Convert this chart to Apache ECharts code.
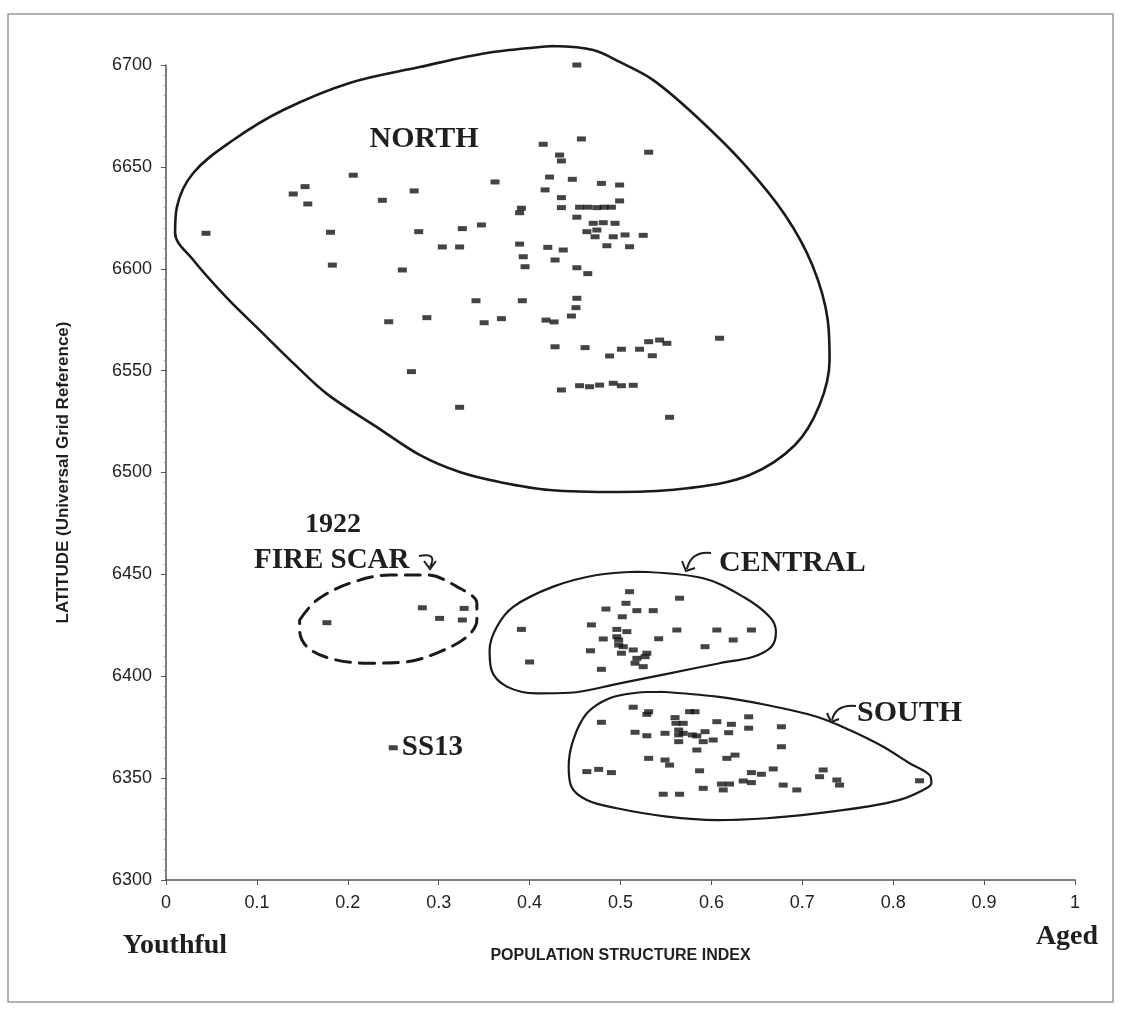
<!DOCTYPE html>
<html>
<head>
<meta charset="utf-8">
<script src="https://cdn.jsdelivr.net/npm/echarts@6/dist/echarts.min.js"></script>
<style>
  html, body { margin: 0; padding: 0; background: #ffffff; }
  #chart { width: 1122px; height: 1011px; }
</style>
</head>
<body>
<div id="chart"></div>
<script>
// Sample sites: [population structure index, latitude (UTM northing, km)]
const north = [
  [0.044, 6617.4], [0.140, 6636.7], [0.153, 6640.3], [0.156, 6631.8], [0.206, 6645.9],
  [0.238, 6633.6], [0.273, 6638.2], [0.181, 6617.9], [0.183, 6601.8], [0.260, 6599.4],
  [0.278, 6618.2], [0.304, 6610.7], [0.323, 6610.7], [0.326, 6619.7], [0.347, 6621.5],
  [0.341, 6584.3], [0.392, 6584.3], [0.245, 6574.0], [0.287, 6576.0], [0.350, 6573.5],
  [0.369, 6575.5], [0.362, 6642.6], [0.391, 6629.7], [0.389, 6627.5], [0.389, 6612.1],
  [0.393, 6605.9], [0.395, 6601.0], [0.415, 6661.1], [0.457, 6663.7], [0.531, 6657.2],
  [0.433, 6655.8], [0.435, 6652.9], [0.422, 6645.0], [0.447, 6643.9], [0.479, 6641.9],
  [0.499, 6641.1], [0.417, 6638.7], [0.435, 6634.9], [0.499, 6633.3], [0.435, 6630.0],
  [0.455, 6630.2], [0.464, 6630.2], [0.474, 6630.0], [0.482, 6630.2], [0.490, 6630.2],
  [0.452, 6625.3], [0.470, 6622.3], [0.481, 6622.6], [0.494, 6622.3], [0.463, 6618.2],
  [0.474, 6619.0], [0.472, 6615.7], [0.492, 6615.7], [0.505, 6616.6], [0.525, 6616.4],
  [0.485, 6611.3], [0.510, 6610.8], [0.420, 6610.5], [0.437, 6609.2], [0.428, 6604.3],
  [0.452, 6600.5], [0.464, 6597.6], [0.452, 6585.5], [0.451, 6580.9], [0.446, 6576.8],
  [0.418, 6574.8], [0.427, 6573.9], [0.428, 6561.7], [0.461, 6561.3], [0.488, 6557.2],
  [0.501, 6560.5], [0.521, 6560.5], [0.531, 6564.2], [0.543, 6565.0], [0.551, 6563.4],
  [0.535, 6557.3], [0.609, 6565.9], [0.270, 6549.5], [0.435, 6540.5], [0.455, 6542.6],
  [0.466, 6542.1], [0.477, 6542.9], [0.492, 6543.8], [0.501, 6542.6], [0.514, 6542.8],
  [0.323, 6532.0], [0.554, 6527.1], [0.452, 6700.0]
];

const central = [
  [0.510, 6441.5], [0.506, 6435.8], [0.484, 6433.0], [0.518, 6432.2], [0.536, 6432.2],
  [0.565, 6438.3], [0.502, 6429.2], [0.468, 6425.2], [0.391, 6423.0], [0.496, 6423.0],
  [0.507, 6421.9], [0.481, 6418.3], [0.496, 6419.4], [0.498, 6417.8], [0.542, 6418.4],
  [0.562, 6422.7], [0.606, 6422.7], [0.644, 6422.7], [0.624, 6417.8], [0.593, 6414.5],
  [0.498, 6415.3], [0.503, 6414.5], [0.467, 6412.5], [0.501, 6411.3], [0.514, 6412.9],
  [0.529, 6411.3], [0.518, 6408.8], [0.527, 6409.6], [0.516, 6406.4], [0.525, 6404.7],
  [0.400, 6407.0], [0.479, 6403.4]
];

const south = [
  [0.514, 6384.8], [0.531, 6382.6], [0.529, 6381.3], [0.576, 6382.6], [0.582, 6382.6],
  [0.479, 6377.4], [0.560, 6379.7], [0.561, 6376.9], [0.569, 6376.9], [0.606, 6377.7],
  [0.622, 6376.4], [0.641, 6380.1], [0.641, 6374.5], [0.677, 6375.2], [0.516, 6372.5],
  [0.529, 6370.8], [0.549, 6372.0], [0.564, 6373.6], [0.564, 6371.2], [0.564, 6367.9],
  [0.569, 6372.0], [0.579, 6371.2], [0.584, 6370.7], [0.593, 6372.8], [0.619, 6372.3],
  [0.591, 6367.9], [0.602, 6368.7], [0.584, 6363.8], [0.677, 6365.4], [0.531, 6359.7],
  [0.549, 6358.9], [0.554, 6356.4], [0.617, 6359.7], [0.626, 6361.3], [0.463, 6353.2],
  [0.476, 6354.3], [0.490, 6352.7], [0.587, 6353.6], [0.644, 6352.7], [0.655, 6351.9],
  [0.668, 6354.5], [0.723, 6354.0], [0.719, 6350.7], [0.738, 6349.1], [0.741, 6346.6],
  [0.829, 6348.7], [0.611, 6347.1], [0.613, 6344.2], [0.620, 6347.1], [0.635, 6348.6],
  [0.644, 6347.8], [0.591, 6345.0], [0.679, 6346.6], [0.694, 6344.2], [0.547, 6342.1],
  [0.565, 6342.1]
];

const fireScar = [
  [0.177, 6426.3], [0.282, 6433.6], [0.301, 6428.4], [0.328, 6433.3], [0.326, 6427.6]
];

const outlier = [[0.250, 6364.9]];
const outlierName = 'SS13';

// Hand-drawn region boundaries, traced as closed rings
const northOutline = [
  [0.426, 6709.3], [0.470, 6707.4], [0.499, 6701.5], [0.536, 6692.6], [0.584, 6674.5],
  [0.637, 6650.9], [0.681, 6626.4], [0.711, 6601.8], [0.728, 6574.8], [0.730, 6555.2],
  [0.719, 6533.1], [0.692, 6513.5], [0.642, 6498.8], [0.576, 6492.4], [0.499, 6490.4],
  [0.422, 6491.4], [0.367, 6495.3], [0.323, 6500.2], [0.279, 6508.6], [0.232, 6522.3],
  [0.177, 6538.6], [0.140, 6553.7], [0.103, 6569.9], [0.067, 6585.7], [0.030, 6604.3],
  [0.010, 6617.5], [0.012, 6630.3], [0.030, 6647.0], [0.074, 6663.2], [0.129, 6677.9],
  [0.202, 6691.2], [0.279, 6699.0], [0.353, 6705.9], [0.426, 6709.3]
];

const centralOutline = [
  [0.518, 6451.3], [0.591, 6448.1], [0.635, 6439.0], [0.664, 6429.2], [0.671, 6421.9],
  [0.666, 6414.5], [0.646, 6409.6], [0.609, 6406.4], [0.554, 6401.4], [0.499, 6396.5],
  [0.444, 6391.9], [0.408, 6391.6], [0.375, 6394.9], [0.358, 6403.1], [0.356, 6412.9],
  [0.364, 6424.3], [0.382, 6434.1], [0.426, 6444.0], [0.474, 6449.7], [0.518, 6451.3]
];

const southOutline = [
  [0.543, 6392.4], [0.606, 6390.0], [0.661, 6385.9], [0.716, 6380.1], [0.752, 6373.6],
  [0.789, 6365.4], [0.818, 6357.3], [0.840, 6351.5], [0.842, 6347.5], [0.833, 6344.2],
  [0.807, 6339.3], [0.771, 6336.0], [0.716, 6332.7], [0.661, 6330.3], [0.606, 6329.4],
  [0.551, 6331.1], [0.496, 6335.2], [0.463, 6339.3], [0.446, 6345.8], [0.443, 6355.6],
  [0.448, 6368.7], [0.463, 6381.8], [0.488, 6389.2], [0.518, 6391.9], [0.543, 6392.4]
];

const fireScarOutline = [
  [0.147, 6427.6], [0.166, 6437.4], [0.202, 6445.6], [0.246, 6449.7], [0.287, 6449.7],
  [0.320, 6444.0], [0.342, 6435.8], [0.342, 6427.6], [0.331, 6419.4], [0.301, 6412.0],
  [0.265, 6407.1], [0.221, 6406.4], [0.180, 6408.8], [0.155, 6414.5], [0.147, 6422.7],
  [0.147, 6427.6]
];

const xTickLabels = ['0', '0.1', '0.2', '0.3', '0.4', '0.5', '0.6', '0.7', '0.8', '0.9', '1'];

const SERIF = '"Liberation Serif", "Times New Roman", serif';
const SANS = '"Liberation Sans", Arial, sans-serif';
const INK = '#1f1f1f';

const chart = echarts.init(document.getElementById('chart'), null, { renderer: 'canvas' });

function sites(data) {
  return {
    type: 'scatter', data: data, symbol: 'rect', symbolSize: [9, 5],
    itemStyle: { color: '#151515' }, z: 3, silent: true
  };
}

function ring(data, width, dashed) {
  return {
    type: 'line', data: data, smooth: 0.35, symbol: 'none', clip: false, silent: true, z: 2,
    lineStyle: { color: '#1a1a1a', width: width, type: dashed ? [15, 9] : 'solid', cap: 'round' }
  };
}

function label(text, x, y, size, align) {
  return {
    type: 'text', x: x, y: y, z: 10, silent: true,
    style: {
      text: text, fill: INK, align: align || 'left', verticalAlign: 'middle',
      font: 'bold ' + size + 'px ' + SERIF
    }
  };
}

function curl(x1, y1, cx, cy, x2, y2, head) {
  return [
    { type: 'bezierCurve', z: 10, silent: true,
      shape: { x1: x1, y1: y1, cpx1: cx, cpy1: cy, x2: x2, y2: y2 },
      style: { stroke: INK, lineWidth: 2, fill: 'none' } },
    { type: 'polyline', z: 10, silent: true,
      shape: { points: head },
      style: { stroke: INK, lineWidth: 2, fill: 'none' } }
  ];
}

const option = {
  animation: false,
  backgroundColor: '#ffffff',
  grid: { left: 166, right: 47, top: 65, bottom: 131 },
  xAxis: {
    type: 'value', min: 0, max: 1, interval: 0.1,
    name: 'POPULATION STRUCTURE INDEX', nameLocation: 'middle', nameGap: 68,
    nameTextStyle: { fontFamily: SANS, fontWeight: 'bold', fontSize: 16, color: INK },
    axisLine: { lineStyle: { color: '#555', width: 1.5 } },
    axisTick: { show: true, length: 5, lineStyle: { color: '#555' } },
    splitLine: { show: false },
    axisLabel: {
      fontFamily: SANS, fontSize: 18, color: '#222', margin: 14,
      formatter: function (v) { return xTickLabels[Math.round(v * 10)]; }
    }
  },
  yAxis: {
    type: 'value', min: 6300, max: 6700, interval: 50,
    name: 'LATITUDE (Universal Grid Reference)', nameLocation: 'middle', nameGap: 94,
    nameTextStyle: { fontFamily: SANS, fontWeight: 'bold', fontSize: 17, color: INK },
    axisLine: { show: true, lineStyle: { color: '#555', width: 1.5 } },
    axisTick: { show: true, length: 5, lineStyle: { color: '#555' } },
    minorTick: { show: true, splitNumber: 10, length: 2, lineStyle: { color: '#888' } },
    splitLine: { show: false },
    axisLabel: {
      fontFamily: SANS, fontSize: 18, color: '#222', margin: 14,
      formatter: function (v) { return String(Math.round(v)); }
    }
  },
  series: [
    ring(northOutline, 2.6, false),
    ring(centralOutline, 2.2, false),
    ring(southOutline, 2.2, false),
    ring(fireScarOutline, 3, true),
    sites(north),
    sites(central),
    sites(south),
    sites(fireScar),
    Object.assign(sites(outlier), {
      label: {
        show: true, position: 'right', distance: 4, formatter: outlierName,
        fontFamily: SERIF, fontWeight: 'bold', fontSize: 29, color: '#1f1f1f',
        textBorderWidth: 0, opacity: 1
      }
    })
  ],
  graphic: [
    { type: 'rect', silent: true, z: 0,
      shape: { x: 8, y: 14, width: 1105, height: 988 },
      style: { fill: 'none', stroke: '#9a9a9a', lineWidth: 1.5 } },
    label('NORTH', 424, 139, 30, 'center'),
    label('1922', 333, 525, 28, 'center'),
    label('FIRE SCAR', 254, 561, 29, 'left'),
    label('CENTRAL', 719, 563, 30, 'left'),
    label('SOUTH', 857, 713, 30, 'left'),
    label('Youthful', 175, 946, 28, 'center'),
    label('Aged', 1067, 937, 28, 'center')
  ].concat(
    curl(419, 556, 438, 552, 430, 567, [[424, 561], [430, 569], [436, 561]]),
    curl(711, 553, 691, 551, 687, 569, [[682, 561], [686, 571], [695, 568]]),
    curl(856, 706, 836, 704, 832, 720, [[827, 713], [831, 722], [839, 719]])
  )
};

chart.setOption(option);
</script>
</body>
</html>
